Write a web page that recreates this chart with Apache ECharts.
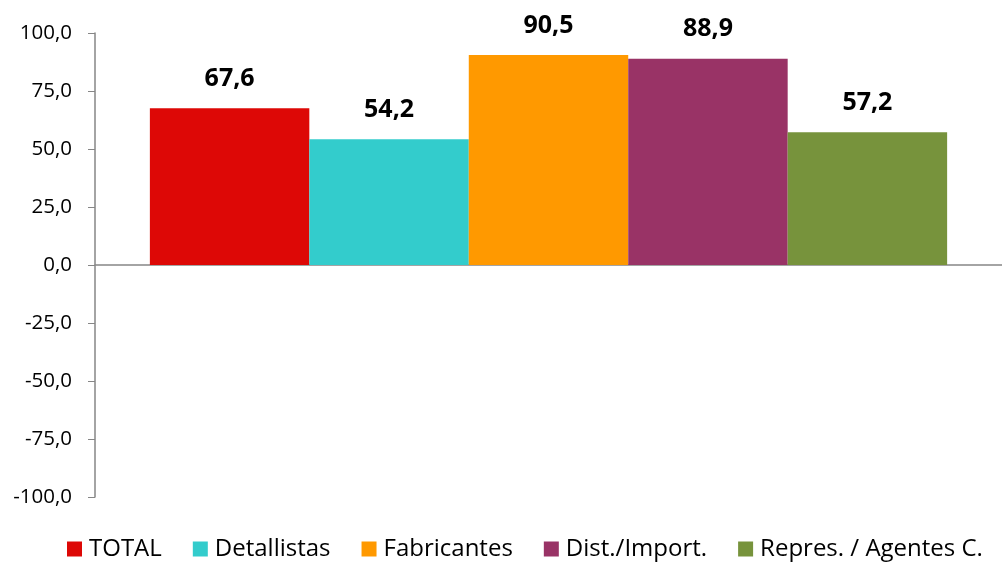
<!DOCTYPE html>
<html>
<head>
<meta charset="utf-8">
<script src="https://cdn.jsdelivr.net/npm/echarts@6/dist/echarts.min.js"></script>
<style>html,body{margin:0;padding:0;background:#fff}#c{width:1002px;height:567px}</style>
</head>
<body>
<div id="c"></div>
<script>
var categories = [''];
var seriesNames = ['TOTAL', 'Detallistas', 'Fabricantes', 'Dist./Import.', 'Repres. / Agentes C.'];
var seriesValues = [67.6, 54.2, 90.5, 88.9, 57.2];
var seriesColors = ['#DD0806', '#33CCCC', '#FF9900', '#993366', '#77933C'];
var yMin = -100, yMax = 100, yStep = 25;

var font = 'Open Sans, Noto Sans, sans-serif';
var chart = echarts.init(document.getElementById('c'));
var fmt = function (v) { return Number(v).toFixed(1).replace('.', ','); };
var series = seriesNames.map(function (n, i) {
  return {
    name: n, type: 'bar', data: [seriesValues[i]],
    barGap: '0%', barCategoryGap: '12.1%',
    itemStyle: { color: seriesColors[i] },
    label: { show: true, position: 'top', distance: 17, formatter: function (p) { return fmt(p.value); },
      fontFamily: font, fontWeight: 'bold', fontSize: 25, color: '#000' }
  };
});
chart.setOption({
  animation: false,
  grid: { left: 95, right: 0, top: 33, bottom: 70 },
  legend: {
    bottom: 1, left: 62, icon: 'rect', itemWidth: 15, itemHeight: 15, itemGap: 31,
    textStyle: { fontFamily: font, fontSize: 24, color: '#000', padding: [0, 0, 0, 2] },
    data: seriesNames
  },
  xAxis: {
    type: 'category', data: categories,
    axisLine: { onZero: true, lineStyle: { color: '#868686', width: 1.5 } },
    axisTick: { show: false }, axisLabel: { show: false }
  },
  yAxis: {
    type: 'value', min: yMin, max: yMax, interval: yStep,
    axisLine: { show: true, lineStyle: { color: '#868686', width: 1.5 } },
    axisTick: { show: true, length: 7, lineStyle: { color: '#868686' } },
    splitLine: { show: false },
    axisLabel: { formatter: fmt, fontFamily: font, fontSize: 20.5, color: '#000', margin: 23 }
  },
  series: series
});
</script>
</body>
</html>
